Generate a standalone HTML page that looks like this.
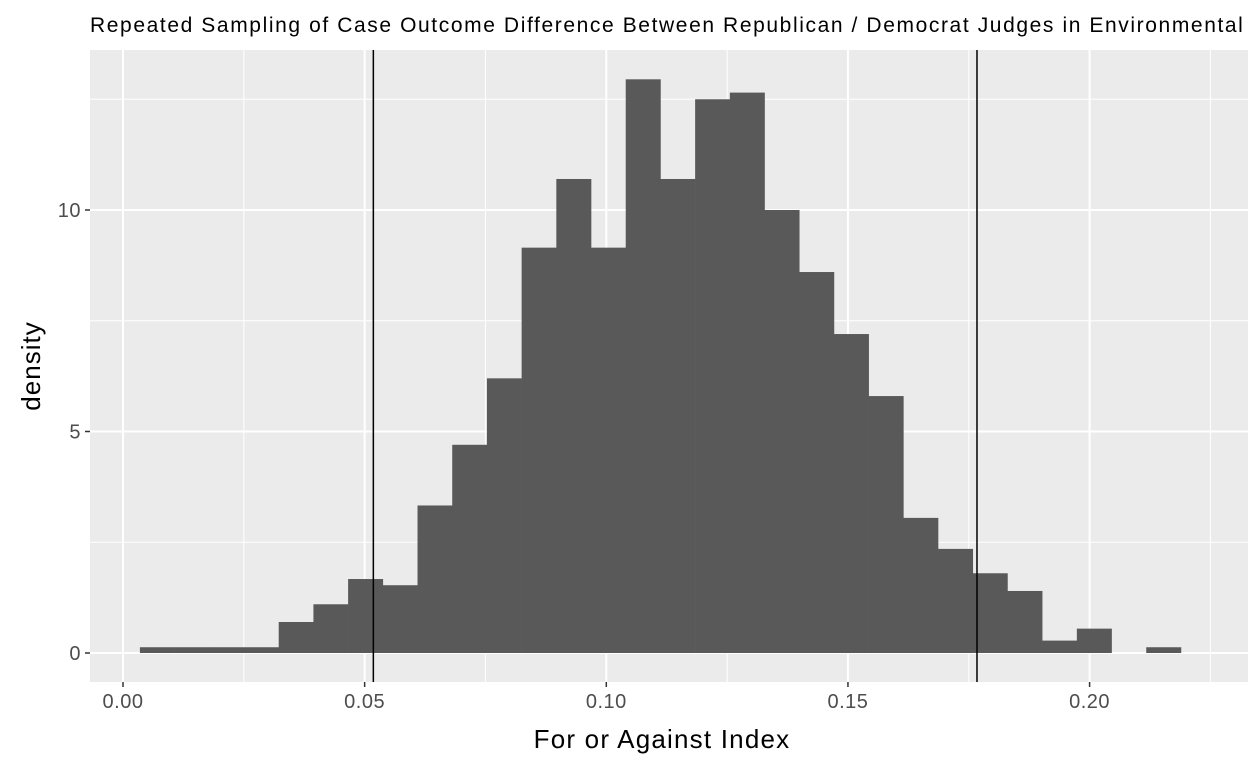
<!DOCTYPE html>
<html><head><meta charset="utf-8"><style>
body{margin:0;background:#fff;}
svg text{font-family:"Liberation Sans",Arial,sans-serif;}
</style></head><body>
<svg id="chart" width="1248" height="768">
<text x="90" y="32" font-size="21" letter-spacing="1.6" fill="#000">Repeated Sampling of Case Outcome Difference Between Republican / Democrat Judges in Environmental Law</text>
<rect x="90" y="50" width="1158" height="632" fill="#ebebeb"/>
<g id="grid"></g>
<g id="bars"></g>
<g id="vlines"></g>
<g id="axes"></g>
<text x="662" y="748" font-size="26" letter-spacing="1.2" text-anchor="middle" fill="#000">For or Against Index</text>
<text transform="translate(40,366) rotate(-90)" font-size="26" letter-spacing="1" text-anchor="middle" fill="#000">density</text>
</svg>
<script>
const binStart = 0.0035;
const binWidth = 0.00718;
const densities = [0.13,0.13,0.13,0.13,0.7,1.1,1.67,1.53,3.33,4.7,6.2,9.15,10.7,9.15,12.95,10.7,12.5,12.65,10.0,8.6,7.2,5.8,3.05,2.35,1.8,1.4,0.28,0.55,0,0.13];
const xTicks = [0,0.05,0.10,0.15,0.20];
const xTickLabels = ["0.00","0.05","0.10","0.15","0.20"];
const yTicks = [0,5,10];
const yTickLabels = ["0","5","10"];
const vLines = [0.0518,0.1767];

const NS="http://www.w3.org/2000/svg";
const X=v=>123+v*4833;
const Y=v=>653-v*44.3;
function mk(tag,attrs,parent){const e=document.createElementNS(NS,tag);for(const k in attrs)e.setAttribute(k,attrs[k]);document.getElementById(parent).appendChild(e);return e;}
const L=90,R=1248,T=50,B=682;
for(let i=0;i<xTicks.length;i++){const m=xTicks[i]+0.025;const px=X(m);if(px<R){const g=mk('line',{x1:px,x2:px,y1:T,y2:B,stroke:'#fff','stroke-width':1},'grid');

}}
for(let i=0;i<yTicks.length;i++){const py=Y(yTicks[i]+2.5);const g=mk('line',{x1:L,x2:R,y1:py,y2:py,stroke:'#fff','stroke-width':1},'grid');

}
xTicks.forEach((t,i)=>{const px=X(t);const g=mk('line',{x1:px,x2:px,y1:T,y2:B,stroke:'#fff','stroke-width':2},'grid');


const tk=mk('line',{x1:px,x2:px,y1:B,y2:B+5,stroke:'#333','stroke-width':1.5},'axes');


const tx=mk('text',{x:px,y:B+26,'font-size':20,'letter-spacing':0.5,'text-anchor':'middle',fill:'#4d4d4d'},'axes');tx.textContent=xTickLabels[i];

});
yTicks.forEach((t,i)=>{const py=Y(t);const g=mk('line',{x1:L,x2:R,y1:py,y2:py,stroke:'#fff','stroke-width':2},'grid');


const tk=mk('line',{x1:L-5,x2:L,y1:py,y2:py,stroke:'#333','stroke-width':1.5},'axes');


const tx=mk('text',{x:L-9,y:py+7,'font-size':20,'letter-spacing':0.5,'text-anchor':'end',fill:'#4d4d4d'},'axes');tx.textContent=yTickLabels[i];

});
densities.forEach((d,i)=>{if(d<=0)return;const x0=X(binStart+i*binWidth),x1=X(binStart+(i+1)*binWidth);
const r=mk('rect',{x:x0,y:Y(d),width:x1-x0+0.3,height:Y(0)-Y(d),fill:'#595959'},'bars');

});
vLines.forEach(v=>{const l=mk('line',{x1:X(v),x2:X(v),y1:T,y2:B,stroke:'#000','stroke-width':1.5},'vlines');

});
</script>
</body></html>
